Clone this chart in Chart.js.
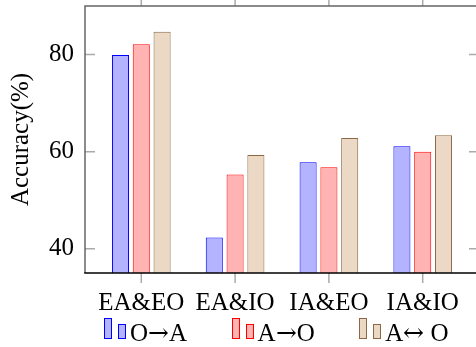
<!DOCTYPE html>
<html>
<head>
<meta charset="utf-8">
<script src="https://cdn.jsdelivr.net/npm/chart.js@4.4.0/dist/chart.umd.min.js"></script>
<style>
  @font-face { font-family: "SerifArrows"; src: local("DejaVu Serif"); unicode-range: U+2190-21FF; }
  html, body { margin: 0; padding: 0; background: #fff; }
  #wrap { position: relative; width: 476px; height: 347px; overflow: hidden; }
  #chart { position: absolute; left: 0; top: 0; }
  #legend {
    position: absolute; top: 318px; height: 26px;
    display: flex; justify-content: flex-start;
    font-family: "SerifArrows", "Liberation Serif", "DejaVu Serif", serif; font-size: 25px; line-height: 25px;
    white-space: nowrap; color: #000;
  }
  #legend .item { min-width: 127.6px; }
  #legend .bar {
    display: inline-block; box-sizing: border-box; width: 8px;
    border: 1px solid; margin-bottom: 2px; vertical-align: baseline;
  }
  #legend .tall { height: 21px; margin-right: 6px; }
  #legend .short { height: 15px; margin-right: 4px; }
</style>
</head>
<body>
<div id="wrap">
  <canvas id="chart" width="480" height="347"></canvas>
  <div id="legend"></div>
</div>
<script>
const categories = ['EA&EO', 'EA&IO', 'IA&EO', 'IA&IO'];
const seriesNames = ['O→A', 'A→O', 'A↔ O'];
const oToA = [79.9, 42.3, 57.8, 61.1];
const aToO = [82.1, 55.3, 56.8, 60.0];
const aBothO = [84.7, 59.3, 62.8, 63.4];
const yTicks = [40, 60, 80];

const fills = ['#b3b3ff', '#ffb3b3', '#ebd9c6'];
const borders = ['#0000ff', '#ff0000', '#8c6844'];
const serif = '"Liberation Serif", "DejaVu Serif", serif';

const toPoints = values => values.map((v, i) => ({ x: i, y: v }));

// pgfplots-style frame: inward y ticks, outward x ticks
const framePlugin = {
  id: 'frame',
  afterDatasetsDraw(chart) {
    const { ctx, chartArea: a, scales } = chart;
    ctx.save();
    ctx.lineWidth = 1.5;
    ctx.strokeStyle = '#aaaaaa';
    ctx.beginPath();
    yTicks.forEach(t => {
      const y = scales.y.getPixelForValue(t);
      ctx.moveTo(a.left, y); ctx.lineTo(a.left + 10, y);
      ctx.moveTo(a.right, y); ctx.lineTo(a.right - 10, y);
    });
    categories.forEach((_, i) => {
      const x = scales.x.getPixelForValue(i);
      ctx.moveTo(x, a.bottom); ctx.lineTo(x, a.bottom + 10);
      ctx.moveTo(x, a.top); ctx.lineTo(x, a.top - 10);
    });
    ctx.stroke();

    ctx.strokeStyle = '#666666';
    ctx.beginPath();
    ctx.moveTo(a.left, a.bottom); ctx.lineTo(a.left, a.top);
    ctx.lineTo(a.right, a.top); ctx.lineTo(a.right, a.bottom);
    ctx.stroke();
    ctx.strokeStyle = '#000000';
    ctx.beginPath();
    ctx.moveTo(a.left - 0.75, a.bottom); ctx.lineTo(a.right, a.bottom);
    ctx.stroke();
    ctx.restore();
  }
};

// html legend with the two little bars like the pgfplots ybar legend
const htmlLegend = {
  id: 'htmlLegend',
  afterUpdate(chart) {
    const box = document.getElementById('legend');
    const a = chart.chartArea;
    box.style.left = (a.left + 19) + 'px';
    box.innerHTML = '';
    chart.data.datasets.forEach(ds => {
      const item = document.createElement('span');
      item.className = 'item';
      ['tall', 'short'].forEach(k => {
        const b = document.createElement('span');
        b.className = 'bar ' + k;
        b.style.background = ds.backgroundColor;
        b.style.borderColor = ds.borderColor;
        item.appendChild(b);
      });
      item.appendChild(document.createTextNode(ds.label));
      box.appendChild(item);
    });
  }
};

new Chart(document.getElementById('chart'), {
  type: 'bar',
  data: {
    datasets: [oToA, aToO, aBothO].map((vals, i) => ({
      label: seriesNames[i],
      data: toPoints(vals),
      backgroundColor: fills[i],
      borderColor: borders[i],
      borderWidth: 1,
      borderSkipped: 'start',
      barPercentage: 0.82,
      categoryPercentage: 0.665,
    })),
  },
  options: {
    responsive: false,
    devicePixelRatio: 1,
    animation: false,
    layout: { padding: { top: 6, right: 1, bottom: 0, left: 0 } },
    plugins: { legend: { display: false }, tooltip: { enabled: false } },
    scales: {
      x: {
        type: 'linear',
        min: -0.6,
        max: 3.6,
        offset: false,
        grid: { display: false, drawTicks: false, offset: false },
        border: { display: false },
        afterBuildTicks: scale => { scale.ticks = categories.map((_, i) => ({ value: i })); },
        afterFit: scale => { scale.height = 74; scale.paddingLeft = 0; scale.paddingRight = 0; },
        ticks: {
          autoSkip: false,
          maxRotation: 0,
          padding: 15,
          color: '#000',
          font: { family: serif, size: 25 },
          callback: v => categories[v] ?? '',
        },
      },
      y: {
        min: 35,
        max: 90,
        grid: { display: false, drawTicks: false },
        border: { display: false },
        afterBuildTicks: scale => { scale.ticks = yTicks.map(v => ({ value: v })); },
        afterFit: scale => { scale.width = 85; scale.paddingTop = 0; scale.paddingBottom = 0; },
        ticks: {
          padding: 11,
          color: '#000',
          font: { family: serif, size: 25 },
        },
        title: {
          display: true,
          text: 'Accuracy(%)',
          color: '#000',
          font: { family: serif, size: 25 },
          padding: { top: 6, bottom: 0 },
        },
      },
    },
  },
  plugins: [framePlugin, htmlLegend],
});
</script>
</body>
</html>
